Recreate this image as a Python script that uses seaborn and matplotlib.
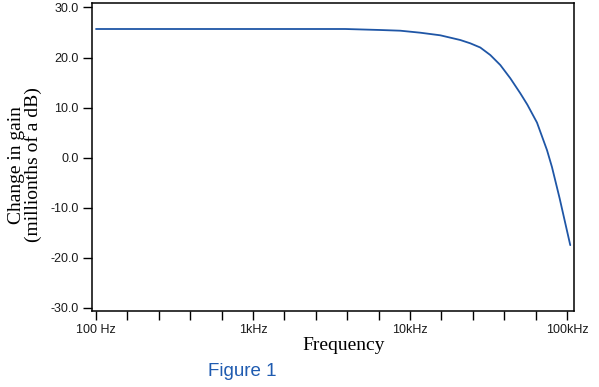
import numpy as np
import pandas as pd
import matplotlib
matplotlib.use("Agg")
import matplotlib.pyplot as plt
from matplotlib.ticker import FixedLocator, NullFormatter
import seaborn as sns

# frequency response (Hz, millionths of a dB)
freq_hz = [100, 300, 1000, 2000, 3870, 6470, 8680, 11630, 15600, 20910, 24220,
           28040, 32480, 37610, 43560, 50430, 55870, 64410, 74590, 80260,
           89730, 104950]
gain_udb = [25.7, 25.7, 25.7, 25.7, 25.7, 25.5, 25.36, 24.96, 24.44, 23.5, 22.84,
            22.0, 20.5, 18.5, 15.85, 12.85, 10.6, 7.0, 1.5, -1.9,
            -8.1, -17.5]

y_ticks = [30, 20, 10, 0, -10, -20, -30]
x_major = [100, 1000, 10000, 100000]
x_labels = ["100 Hz", "1kHz", "10kHz", "100kHz"]

LINE_BLUE = "#1f56a6"
TEXT_BLUE = "#1f5bb0"

sns.set_theme(style="ticks")
plt.rcParams["font.family"] = ["Liberation Sans", "DejaVu Sans"]

df = pd.DataFrame({"freq": freq_hz, "gain": gain_udb})

fig = plt.figure(figsize=(5.99, 3.87), dpi=100)
ax = fig.add_axes([0.1536, 0.1964, 0.8046, 0.7946])

sns.lineplot(data=df, x="freq", y="gain", ax=ax, color=LINE_BLUE, linewidth=1.3)

ax.set_xscale("log")
ax.set_xlim(94.3, 110800)
ax.set_ylim(-30.66, 30.8)

ax.xaxis.set_major_locator(FixedLocator(x_major))
ax.set_xticklabels(x_labels)
minor = [10 ** (2 + 0.2 * k) for k in range(16) if k % 5 != 0]
ax.xaxis.set_minor_locator(FixedLocator(minor))
ax.xaxis.set_minor_formatter(NullFormatter())

ax.set_yticks(y_ticks)
ax.set_yticklabels([f"{v:.1f}" for v in y_ticks])

ax.tick_params(axis="both", which="both", direction="out", length=6.5, width=1,
               color="black", labelsize=9, labelcolor="#1a1a1a", pad=3)

for sp in ax.spines.values():
    sp.set_visible(True)
    sp.set_color("black")
    sp.set_linewidth(1.1)

ax.set_xlabel("")
ax.set_ylabel("")

fig.text(344 / 599, 1 - 345 / 387, "Frequency", family="Liberation Serif",
         fontsize=14, ha="center", va="center", color="black")
fig.text(25 / 599, 1 - 165 / 387, "Change in gain\n(millionths of a dB)",
         family="Liberation Serif", fontsize=14, ha="center", va="center",
         rotation=90, linespacing=0.95, color="black")
fig.text(242 / 599, 1 - 372 / 387, "Figure 1", fontsize=13.5,
         ha="center", va="center", color=TEXT_BLUE)

fig.savefig("out.png", dpi=100)
plt.close(fig)
